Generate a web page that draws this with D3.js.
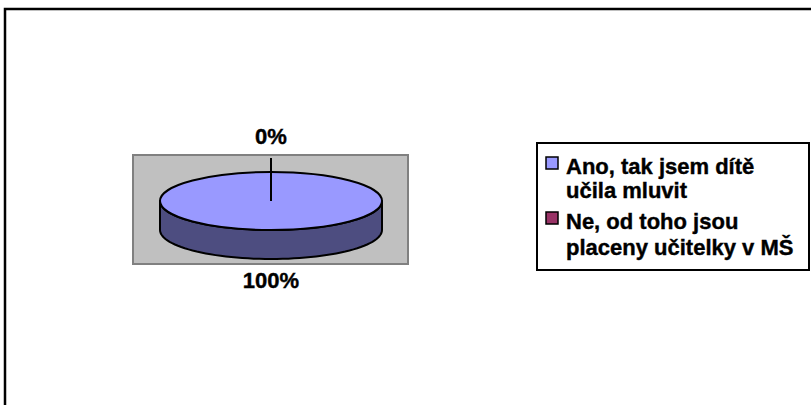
<!DOCTYPE html>
<html>
<head>
<meta charset="utf-8">
<script src="https://cdn.jsdelivr.net/npm/d3@7"></script>
<style>
  body { margin: 0; background: #fff; }
  text { font-family: "Liberation Sans", Arial, sans-serif; font-weight: bold; stroke: #000; stroke-width: 0.4px; }
</style>
</head>
<body>
<svg id="canvas" width="811" height="405"></svg>
<script>
let categories = ["Ano, tak jsem dítě učila mluvit", "Ne, od toho jsou placeny učitelky v MŠ"];
let legendLines = [["Ano, tak jsem dítě", "učila mluvit"], ["Ne, od toho jsou", "placeny učitelky v MŠ"]];
let values = [100, 0];
let topColors = ["#9999ff", "#993366"];
let sideColors = ["#4d4d80", "#4d1a33"];

let svg = d3.select("#canvas");

// chart frame
svg.append("rect")
  .attr("x", 5).attr("y", 9).attr("width", 820).attr("height", 420)
  .attr("fill", "#fff").attr("stroke", "#000").attr("stroke-width", 2.5);

// plot area
svg.append("rect")
  .attr("x", 133).attr("y", 155).attr("width", 275).attr("height", 109)
  .attr("fill", "#c0c0c0").attr("stroke", "#808080").attr("stroke-width", 2);

let cx = 271, cy = 201, rx = 111, ry = 29, depth = 29;

let pie = d3.pie().sort(null).value(d => d);
let slices = pie(values);

let px = a => cx + rx * Math.sin(a);
let py = a => cy - ry * Math.cos(a);

// side walls (front half only)
let sidePath = (a0, a1) => {
  let s = Math.max(a0, Math.PI / 2), e = Math.min(a1, 3 * Math.PI / 2);
  if (e <= s) return null;
  let steps = d3.range(0, 61).map(i => s + (e - s) * i / 60);
  let p = d3.path();
  steps.forEach((a, i) => i ? p.lineTo(px(a), py(a)) : p.moveTo(px(a), py(a)));
  steps.slice().reverse().forEach(a => p.lineTo(px(a), py(a) + depth));
  p.closePath();
  return p.toString();
};

slices.forEach((d, i) => {
  let path = sidePath(d.startAngle, d.endAngle);
  if (path) {
    svg.append("path").attr("d", path)
      .attr("fill", sideColors[i]).attr("stroke", "#000").attr("stroke-width", 2)
      .attr("stroke-linejoin", "round");
  }
});

// top faces
let arc = d3.arc().innerRadius(0).outerRadius(rx);
svg.append("g")
  .attr("transform", `translate(${cx},${cy}) scale(1,${ry / rx})`)
  .selectAll("path")
  .data(slices)
  .enter()
  .append("path")
  .attr("d", arc)
  .attr("fill", (d, i) => topColors[i])
  .attr("stroke", "#000")
  .attr("stroke-width", 2)
  .attr("vector-effect", "non-scaling-stroke");

// zero slice edge line + leader
slices.forEach((d, i) => {
  if (d.endAngle - d.startAngle === 0) {
    let a = d.startAngle;
    svg.append("line")
      .attr("x1", cx).attr("y1", cy)
      .attr("x2", px(a)).attr("y2", py(a) - 14)
      .attr("stroke", "#000").attr("stroke-width", 2);
  }
});

// data labels
slices.forEach((d, i) => {
  let mid = (d.startAngle + d.endAngle) / 2;
  let bottom = Math.cos(mid) < 0;
  let y = bottom ? py(mid) + depth + 29 : py(mid) - 28;
  svg.append("text")
    .attr("x", px(mid)).attr("y", y)
    .attr("text-anchor", "middle")
    .attr("font-size", 22)
    .text(Math.round(d.value / d3.sum(values) * 100) + "%");
});

// legend
let legend = svg.append("g");
legend.append("rect")
  .attr("x", 537).attr("y", 143).attr("width", 272).attr("height", 127)
  .attr("fill", "#fff").attr("stroke", "#000").attr("stroke-width", 2);

let lineY = [[174, 198], [229, 255]];
legendLines.forEach((lines, i) => {
  legend.append("rect")
    .attr("x", 546).attr("y", lineY[i][0] - 17).attr("width", 12).attr("height", 12)
    .attr("fill", topColors[i]).attr("stroke", "#000").attr("stroke-width", 1.5);
  lines.forEach((t, j) => {
    legend.append("text")
      .attr("x", 566).attr("y", lineY[i][j])
      .attr("font-size", 22)
      .text(t);
  });
});
</script>
</body>
</html>
